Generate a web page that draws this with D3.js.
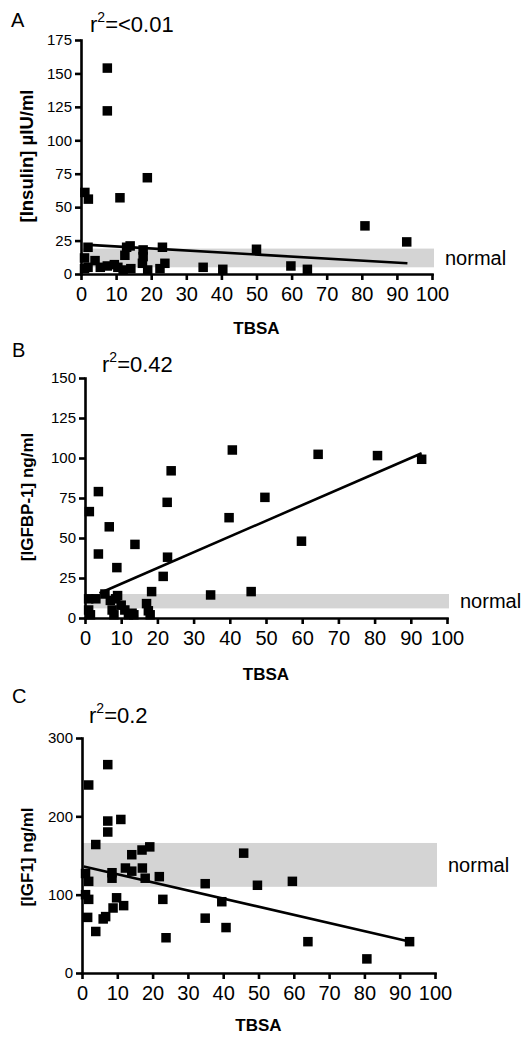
<!DOCTYPE html>
<html>
<head>
<meta charset="utf-8">
<script src="https://cdn.jsdelivr.net/npm/d3@7"></script>
<style>
body { margin: 0; background: #fff; }
svg text { font-family: "Liberation Sans", Arial, sans-serif; fill: #000; }
.axis path, .axis line { stroke: #000; stroke-width: 2.6; }
.axis text { font-family: "Liberation Sans", Arial, sans-serif; fill: #000; }
</style>
</head>
<body>
<div id="chart"></div>
<script>
// TBSA vs. value
var insulinPts = [
	[7.5,154],[7.5,122],[1.1,61],[2.1,56],[18.9,72],[11.1,57],
	[2,20],[13,20],[14,21],[12.5,14],[17.7,18],[17.7,13],[17.5,8],
	[23.2,20],[23.9,8],[22.5,4],[34.8,5],[40.4,3.5],[50,18.5],
	[14.2,4],[1,12],[1,4],[4,10],[5.5,5],[7.5,6],[9.5,7],[10.5,5],
	[2,5],[12,3],[19,3],[80.9,36],[92.8,24],[59.8,6],[64.5,3.5]
];
var igfbpPts = [
	[3.7,79],[23.8,92],[40.7,105],[1.2,66.5],[3.7,40],[6.7,57],[8.8,31.5],
	[13.8,46],[22.7,72.3],[22.8,38],[21.6,26],[18.4,16.5],[34.7,14.4],
	[39.8,62.7],[45.9,16.5],[49.7,75.4],[64.4,102.3],[80.8,101.5],[93,99.2],
	[59.8,48],[1,12],[1,5],[1.5,2],[3,12],[5.5,15],[7,11],[7.5,5],[8,2],
	[8.5,12],[10,8],[11,5],[12,2],[13,3],[13.5,2],[17,9],[17.5,4.5],[18,2],[9,14]
];
var igf1Pts = [
	[7.3,266],[1.9,240],[7.3,194],[7.3,180],[11,196],[3.9,164],[14.1,151],
	[17,157],[19.2,161],[12.3,134],[14.1,130],[17.1,134],[17.9,121],
	[8.5,128],[8.5,121],[1,127],[1.9,117],[1,100],[1.9,94],[1.6,71],
	[3.9,53],[6,69],[6.7,72],[8.8,83],[9.8,96],[11.8,86],[21.9,123],
	[22.9,94],[23.8,45],[34.9,114],[34.9,70],[39.6,91],[40.8,58],
	[45.8,153],[49.7,112],[59.6,117],[64,40],[92.8,40],[80.7,18]
];

var xTicks = [0,10,20,30,40,50,60,70,80,90,100];
var insulinTicks = [0,25,50,75,100,125,150,175];
var igfbpTicks = [0,25,50,75,100,125,150];
var igf1Ticks = [0,100,200,300];

// normal ranges [low, high]
var insulinNormal = [5, 19];
var igfbpNormal = [6, 15];
var igf1Normal = [110, 166];

// regression line end points [[x0,y0],[x1,y1]]
var insulinFit = [[1,22],[93,8]];
var igfbpFit = [[4,15.5],[93,103]];
var igf1Fit = [[0.5,136],[93,40]];

var panels = [
	{ letter: "A", r2: "=<0.01", ylabel: "[Insulin] \u00b5IU/ml", pts: insulinPts, yTicks: insulinTicks,
	  normal: insulinNormal, fit: insulinFit, xr: [81,432], yr: [274,40],
	  letterPos: [11,27], r2Pos: [90,32], ylabPos: [33,156], ylabSize: 18.5, tbsaY: 334 },
	{ letter: "B", r2: "=0.42", ylabel: "[IGFBP-1] ng/ml", pts: igfbpPts, yTicks: igfbpTicks,
	  normal: igfbpNormal, fit: igfbpFit, xr: [85,447], yr: [618,378],
	  letterPos: [12,357], r2Pos: [102,372], ylabPos: [33,497], ylabSize: 17, tbsaY: 680 },
	{ letter: "C", r2: "=0.2", ylabel: "[IGF1] ng/ml", pts: igf1Pts, yTicks: igf1Ticks,
	  normal: igf1Normal, fit: igf1Fit, xr: [82,435], yr: [973,738],
	  letterPos: [12,703], r2Pos: [89,723], ylabPos: [33,857], ylabSize: 17, tbsaY: 1031 }
];

var svg = d3.select("#chart").append("svg")
	.attr("width", 530)
	.attr("height", 1037);

panels.forEach(function(p) {
	var ymax = p.yTicks[p.yTicks.length - 1];
	var x = d3.scaleLinear().domain([0,100]).range(p.xr);
	var y = d3.scaleLinear().domain([0,ymax]).range(p.yr);
	var g = svg.append("g");

	// normal band
	g.append("rect")
		.attr("x", x(0))
		.attr("y", y(p.normal[1]))
		.attr("width", x(100) - x(0) + 2)
		.attr("height", y(p.normal[0]) - y(p.normal[1]))
		.attr("fill", "#d4d4d4");

	g.append("text")
		.attr("x", x(100) + 13)
		.attr("y", (y(p.normal[0]) + y(p.normal[1])) / 2 + 7)
		.attr("font-size", 20)
		.text("normal");

	// axes
	g.append("g")
		.attr("class", "axis")
		.attr("transform", "translate(0," + y(0) + ")")
		.call(d3.axisBottom(x).tickValues(xTicks).tickSize(6).tickSizeOuter(0).tickPadding(7))
		.selectAll("text").attr("font-size", 20);

	g.append("g")
		.attr("class", "axis")
		.attr("transform", "translate(" + x(0) + ",0)")
		.call(d3.axisLeft(y).tickValues(p.yTicks).tickSize(6).tickSizeOuter(0).tickPadding(3))
		.selectAll("text").attr("font-size", 15);

	g.selectAll(".axis .domain").attr("stroke-linecap", "square");

	// regression line
	g.append("line")
		.attr("x1", x(p.fit[0][0])).attr("y1", y(p.fit[0][1]))
		.attr("x2", x(p.fit[1][0])).attr("y2", y(p.fit[1][1]))
		.attr("stroke", "#000")
		.attr("stroke-width", 2.6);

	// points
	var s = 9.5;
	g.selectAll(".pt")
		.data(p.pts)
		.enter().append("rect")
		.attr("x", function(d) { return x(d[0]) - s/2; })
		.attr("y", function(d) { return y(d[1]) - s/2; })
		.attr("width", s)
		.attr("height", s)
		.attr("fill", "#000");

	// labels
	g.append("text")
		.attr("x", p.letterPos[0]).attr("y", p.letterPos[1])
		.attr("font-size", 20)
		.text(p.letter);

	var r = g.append("text")
		.attr("x", p.r2Pos[0]).attr("y", p.r2Pos[1])
		.attr("font-size", 22);
	r.append("tspan").text("r");
	r.append("tspan").attr("font-size", 14).attr("dy", -10).text("2");
	r.append("tspan").attr("dy", 10).text(p.r2);

	g.append("text")
		.attr("transform", "translate(" + p.ylabPos[0] + "," + p.ylabPos[1] + ") rotate(-90)")
		.attr("text-anchor", "middle")
		.attr("font-size", p.ylabSize)
		.attr("font-weight", "bold")
		.text(p.ylabel);

	g.append("text")
		.attr("x", x(50)).attr("y", p.tbsaY)
		.attr("text-anchor", "middle")
		.attr("font-size", 17)
		.attr("font-weight", "bold")
		.text("TBSA");
});
</script>
</body>
</html>
